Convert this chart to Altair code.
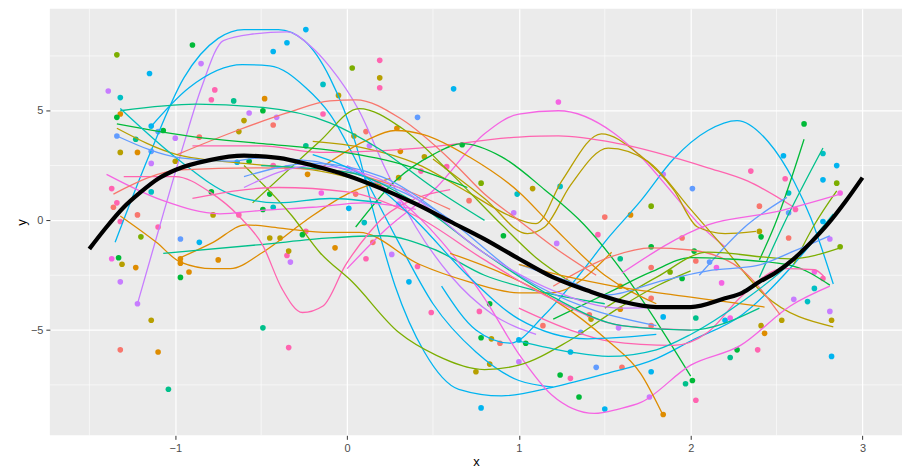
import altair as alt
import pandas as pd

# ---------------- palette (ggplot hue) ----------------
color_keys = ["sal", "ora", "oli", "olg", "grn", "tea", "cya", "sky", "blu", "pur", "vio", "pnk"]
color_hex = ["#F8766D", "#DE8C00", "#B79F00", "#7CAE00", "#00BA38", "#00C08B",
             "#00BFC4", "#00B4F0", "#619CFF", "#C77CFF", "#F564E3", "#FF64B0"]

# ---------------- axis ticks ----------------
x_ticks = [-1, 0, 1, 2, 3]
y_ticks = [-5, 0, 5]
x_minor = [-1.5, -0.5, 0.5, 1.5, 2.5]
y_minor = [-7.5, -2.5, 2.5, 7.5]

# ---------------- scattered points (per colour) ----------------
sal_x = [-0.43, -0.86, -1.36, -1.22, 0.11, 0.71, 1.5, 0.05, 0.15, 0.89, 1.41, 1.14, 2.4, 1.95, 2.03, 2.57, 1.77, 1.77, 1.77, 1.6, -1.32]
sal_y = [4.35, 3.8, 0.6, 0.25, 4.05, 0.9, 0.15, 1.2, -1.0, -5.6, -4.3, -4.8, 0.65, -0.8, -1.85, -0.8, -2.15, -3.55, -4.8, -6.7, -5.9]
pnk_x = [-0.77, -0.79, -0.14, -1.37, -1.34, -0.63, -0.43, 0.19, 0.19, 0.58, 0.43, 2.35, 2.55, 2.61, -0.35, -0.34, -0.24, 0.11, 0.49, 0.41, 0.77, 1.3, 1.46, 2.77, 2.39, 2.03, -1.1, -1.32]
pnk_y = [5.95, 5.5, 4.85, 1.45, 0.8, 0.25, 2.5, 7.3, 6.05, 2.45, 2.25, 2.25, 1.9, 0.5, -1.6, -5.8, -0.5, -1.75, -4.2, -2.1, -4.15, -7.2, -0.65, -2.65, -5.9, -8.2, -0.3, -0.05]
ora_x = [-0.48, -1.32, -1.22, -0.23, 0.29, 0.31, 1.65, -1.23, -1.1, -0.97, -0.97, -0.92, -0.75, -0.07, 1.59, 1.59, 2.43, 1.84]
ora_y = [5.55, 4.85, 3.1, 2.1, 4.2, 3.15, 0.25, -2.15, -6.0, -1.75, -1.95, -2.35, -1.8, -1.25, -3.0, -4.05, -5.15, -8.85]
oli_x = [-0.6, -1.32, -1.0, -0.63, -0.78, 0.19, -0.05, 0.04, 0.45, 1.08, 0.3, -1.31, -1.14, -0.45, -0.39, -0.34, 0.84, 0.83, 0.75, 1.42, 2.4, 2.82, 2.53, 2.41]
oli_y = [4.55, 3.1, 2.7, 4.05, 0.25, 6.5, 5.7, 3.85, 2.9, 1.45, 1.95, -2.0, -4.55, -0.8, -0.8, -1.4, -5.4, -6.55, -6.9, -4.5, -0.5, -4.55, -4.55, -4.8]
olg_x = [-1.34, 0.03, 0.78, 2.85, 1.77, -1.2, 2.87, 1.88]
olg_y = [7.55, 6.95, 1.7, 1.7, 0.65, -0.75, -1.2, -2.35]
grn_x = [-0.9, -0.49, -1.34, -1.07, -0.57, -0.79, -0.45, -0.49, 0.67, 2.66, -1.33, -0.97, -0.26, 0.83, 0.78, 1.04, 1.24, 1.35, 0.91, 2.41, 1.77, 2.02, 1.95, 2.27, 2.01]
grn_y = [8.0, 5.0, 4.7, 4.1, 2.7, 1.3, 1.2, 0.5, 3.45, 4.4, -1.7, -2.6, -0.65, -3.8, -5.35, -5.6, -7.05, -8.05, -0.7, -0.75, -1.2, -1.4, -2.65, -5.9, -7.3]
tea_x = [-0.66, -1.23, -0.24, -1.04, -0.49, 1.59, 2.03, 2.23, 1.97]
tea_y = [5.45, 3.7, 3.4, -7.7, -4.9, -1.75, -4.45, -6.25, -7.45]
cya_x = [-1.32, -0.14, 0.99, 1.24, 2.77, 2.57, 2.72, 2.68, -1.14, -0.43, 0.1]
cya_y = [5.6, 6.2, 1.2, 1.55, 3.05, 1.25, -3.1, -3.7, 1.3, 0.6, -0.1]
sky_x = [-1.15, -0.43, -0.35, -0.24, -1.14, -0.64, 0.62, 0.01, 2.54, 2.85, 2.77, 2.77, -0.86, 0.36, 1.0, 0.78, 1.5, 1.3, 1.84, 2.2, 2.82, 1.77]
sky_y = [6.7, 7.7, 8.1, 8.7, 4.3, 2.65, 6.0, 0.55, 2.95, 2.5, 1.85, -0.05, -1.0, -2.8, -5.45, -8.55, -8.6, -6.0, -4.4, -4.55, -6.2, -6.9]
blu_x = [-1.34, -1.1, -1.14, 0.41, 2.01, 2.57, -0.97, 1.45, 1.36, 2.11]
blu_y = [3.85, 4.05, 3.15, 4.7, 1.45, 0.35, -0.85, -6.7, -5.1, -1.9]
pur_x = [-1.39, -0.85, -0.57, -0.41, -1.0, -1.14, -0.35, 0.13, 0.97, 0.3, -1.32, -1.22, -0.33, 0.26, 1.0, 1.22, 1.84, 2.81, 2.6, 2.81, 1.76, 1.58]
pur_y = [5.9, 7.15, 4.9, 4.7, 3.75, 2.6, 2.4, 3.4, 0.35, 0.75, -2.8, -3.8, -1.9, -1.55, -6.45, -1.05, 2.1, -0.85, -3.6, -4.15, -8.05, -4.9]
vio_x = [-0.15, 1.23, 2.87, -1.37, 2.15, 2.18, 2.72, 2.23]
vio_y = [1.25, 5.4, 1.25, -1.75, -2.15, -2.85, -2.35, -4.45]

# ---------------- smooth group curves ----------------
c01_x = [-1.35, -1.15, -0.95, -0.75, -0.6, -0.4, -0.25, -0.1, 0.05, 0.15, 0.28, 0.45, 0.65, 0.9, 1.2, 1.5, 1.8, 2.0, 2.3, 2.6, 2.83]
c01_y = [-1.0, 3.0, 6.5, 8.3, 8.7, 8.7, 8.2, 6.5, 3.5, 0.5, -3.0, -6.0, -7.7, -8.0, -7.6, -7.0, -6.3, -5.5, -4.3, -2.0, 0.2]
c02_x = [-1.22, -1.07, -0.95, -0.85, -0.72, -0.55, -0.35, -0.22, -0.1, 0.07, 0.22, 0.4, 0.6, 0.85, 1.1]
c02_y = [-3.8, 0.3, 3.5, 6.0, 8.2, 8.5, 8.6, 8.0, 7.0, 5.0, 2.4, -0.3, -2.5, -4.3, -5.2]
c03_x = [-1.15, -0.92, -0.61, -0.45, -0.24, -0.1, 0.1, 0.3, 0.5, 0.75, 1.0, 1.2]
c03_y = [4.2, 6.05, 7.1, 7.05, 6.05, 4.85, 2.0, -1.0, -3.8, -6.0, -7.3, -7.6]
c04_x = [0.55, 0.75, 0.95, 1.15, 1.35, 1.52, 1.71, 1.9, 2.1, 2.27, 2.45, 2.6, 2.7, 2.83]
c04_y = [-3.0, -5.0, -5.6, -4.3, -2.5, -0.8, 0.9, 2.8, 4.1, 4.55, 3.6, 1.8, 0.1, -2.9]
c05_x = [0.0, 0.22, 0.52, 0.8, 1.0, 1.23, 1.55, 1.71, 1.9, 2.04, 2.2]
c05_y = [-2.2, -0.45, 1.5, 3.95, 4.85, 5.0, 4.0, 2.9, 1.2, -0.1, -1.2]
c06_x = [-0.2, 0.1, 0.4, 0.7, 0.95, 1.1, 1.25, 1.48, 1.7, 1.9, 2.04, 2.2, 2.38]
c06_y = [3.6, 3.3, 2.6, 1.3, 0.2, -0.15, 1.8, 3.95, 3.0, 1.4, -0.3, -0.6, -0.5]
c07_x = [0.5, 0.8, 1.05, 1.15, 1.3, 1.52, 1.75, 2.0, 2.2, 2.43, 2.83]
c07_y = [2.8, 1.0, -0.6, -0.3, 1.6, 3.3, 2.7, 0.5, -1.3, -3.4, -4.85]
c08_x = [-0.9, -0.5, -0.16, 0.42, 1.0, 1.23, 1.58, 2.1, 2.33, 2.6]
c08_y = [3.4, 3.4, 3.1, 3.3, 3.8, 3.85, 3.5, 2.4, 1.8, 0.6]
c09_x = [0.05, 0.28, 0.5, 0.67, 0.9, 1.15, 1.38, 1.6, 1.8, 2.0]
c09_y = [-0.3, 1.8, 3.0, 3.5, 2.9, 1.4, -0.2, -2.3, -4.6, -7.1]
c10_x = [-0.55, -0.3, -0.16, 0.07, 0.32, 0.61, 0.9, 1.1, 1.3]
c10_y = [0.8, 2.6, 3.6, 5.1, 4.2, 2.1, -0.2, -1.7, -2.8]
c11_x = [-0.99, -0.64, -0.35, -0.1, 0.05, 0.32, 0.61, 0.8, 1.0, 1.2, 1.45]
c11_y = [3.0, 4.1, 4.9, 5.45, 5.5, 4.6, 2.7, 1.2, 0.0, -1.2, -2.5]
c12_x = [-0.15, 0.1, 0.28, 0.45, 0.71, 1.0, 1.2, 1.5, 1.8]
c12_y = [2.4, 3.6, 4.1, 3.9, 2.9, 1.3, -0.3, -2.5, -3.8]
c13_x = [-1.32, -1.11, -0.97, -0.78, -0.68, -0.49, -0.24, 0.0, 0.25]
c13_y = [0.2, -1.0, -1.9, -2.2, -2.2, -1.45, 0.0, 1.2, 1.9]
c14_x = [-0.97, -0.78, -0.59, -0.39, -0.1, 0.07, 0.42, 0.71, 1.0, 1.19, 1.54]
c14_y = [-1.7, -1.0, -0.2, -0.35, -0.55, -0.55, -2.0, -2.8, -3.3, -3.3, -1.45]
c15_x = [-1.07, -0.5, -0.1, 0.2, 0.5, 0.8, 1.1, 1.5]
c15_y = [-1.5, -1.1, -0.8, -0.7, -1.3, -2.5, -3.2, -3.8]
c16_x = [-1.3, -1.0, -0.8, -0.63, -0.49, -0.38, -0.26, -0.14, -0.01, 0.13, 0.22, 0.4, 0.6]
c16_y = [2.0, 2.0, 1.3, 0.2, -1.15, -3.1, -4.2, -3.9, -2.05, -0.55, 0.2, 1.0, 1.4]
c17_x = [-1.4, -1.07, -0.74, -0.51, -0.2, 0.1, 0.4]
c17_y = [2.1, 0.9, 0.3, 0.45, 0.6, 0.8, 0.5]
c18_x = [0.0, 0.25, 0.48, 0.8, 1.0, 1.19, 1.44, 1.58, 1.71, 2.0, 2.29, 2.58, 2.81]
c18_y = [2.5, 1.3, -0.35, -3.55, -6.1, -7.95, -8.8, -8.6, -8.3, -6.6, -5.7, -3.9, -3.0]
c19_x = [-0.6, -0.32, -0.16, 0.03, 0.3, 0.52, 0.8, 1.0, 1.29, 1.58, 1.8, 2.0]
c19_y = [2.5, 0.2, -1.45, -2.8, -5.1, -6.15, -6.8, -6.6, -5.5, -4.0, -3.0, -2.3]
c20_x = [2.4, 2.49, 2.66]
c20_y = [-1.8, -0.2, 3.7]
c21_x = [2.4, 2.54, 2.77]
c21_y = [-2.6, -0.2, 3.3]
c22_x = [2.6, 2.72, 2.85]
c22_y = [-2.0, -0.2, 1.35]
c23_x = [2.05, 2.33, 2.56]
c23_y = [-2.5, -0.2, 1.05]
c24_x = [1.6, 2.1, 2.5, 2.87]
c24_y = [-2.4, -0.2, 0.4, 1.2]
c25_x = [1.2, 1.52, 1.77, 2.0, 2.29, 2.52]
c25_y = [-3.0, -1.7, -1.25, -1.35, -2.2, -4.3]
c26_x = [1.2, 1.52, 1.77, 2.0, 2.2, 2.58, 2.81]
c26_y = [-4.5, -3.3, -2.35, -1.7, -1.75, -2.05, -2.95]
c27_x = [1.5, 1.8, 2.1, 2.58, 2.87]
c27_y = [-4.0, -2.6, -1.45, -1.75, -1.25]
c28_x = [1.0, 1.3, 1.52, 1.81, 2.1, 2.39, 2.6, 2.81]
c28_y = [-2.0, -2.8, -3.4, -2.8, -2.3, -2.05, -1.4, -0.7]
c29_x = [1.0, 1.3, 1.52, 1.9, 2.1, 2.29, 2.54, 2.72, 2.78]
c29_y = [-4.0, -5.0, -5.5, -5.7, -5.1, -3.5, -2.2, -2.25, -2.6]
c30_x = [0.6, 0.9, 1.2, 1.52, 1.71, 1.84]
c30_y = [-1.5, -2.4, -3.6, -5.5, -7.0, -8.9]
c31_x = [1.0, 1.3, 1.52, 1.9, 2.2, 2.43]
c31_y = [-2.0, -2.6, -2.95, -3.4, -3.7, -3.95]
c32_x = [1.0, 1.3, 1.52, 1.8, 2.0, 2.3, 2.6, 2.83]
c32_y = [-5.5, -6.0, -6.2, -5.9, -5.2, -3.7, -1.8, 0.3]
c33_x = [-1.32, -0.88, -0.49, -0.1, 0.2, 0.5, 0.8]
c33_y = [5.0, 5.3, 5.15, 4.45, 3.2, 1.5, 0.0]
c34_x = [-1.34, -0.88, -0.49, -0.1, 0.3, 0.7]
c34_y = [4.4, 3.8, 3.5, 3.2, 2.6, 1.5]
c35_x = [-1.34, -0.99, -0.6, -0.2, 0.2]
c35_y = [4.2, 3.0, 2.6, 2.3, 1.6]
c36_x = [-1.32, -0.97, -0.68, -0.4, -0.1, 0.2]
c36_y = [5.1, 2.7, 1.2, 0.8, 1.0, 0.8]
c37_x = [-1.34, -0.97, -0.68, -0.51, -0.2, 0.1, 0.4, 0.7]
c37_y = [3.85, 2.85, 2.7, 2.85, 2.7, 2.0, 1.0, -0.5]
c38_x = [-1.36, -0.97, -0.51, -0.1, 0.3, 0.6]
c38_y = [1.2, 2.3, 2.4, 2.3, 1.5, 0.5]
c39_x = [-0.6, -0.2, 0.2, 0.6, 1.0, 1.4, 1.8]
c39_y = [2.0, 2.6, 2.0, 0.0, -2.5, -4.0, -4.8]
c40_x = [-0.9, -0.4, 0.0, 0.4, 0.8, 1.2, 1.6, 2.0]
c40_y = [1.0, 1.5, 1.3, 0.2, -1.8, -3.6, -4.8, -5.0]
c41_x = [-0.5, 0.0, 0.4, 0.8, 1.2, 1.6, 2.0, 2.4]
c41_y = [2.5, 2.2, 0.8, -1.5, -3.5, -4.8, -5.0, -4.0]
c42_x = [-0.2, 0.1, 0.4, 0.7, 1.0, 1.4, 1.8]
c42_y = [3.0, 2.0, 0.0, -2.5, -4.5, -5.4, -5.2]
c43_x = [-0.6, -0.2, 0.3, 0.8, 1.2, 1.6, 2.0]
c43_y = [1.5, 2.5, 1.5, -1.5, -3.2, -4.0, -3.9]

# ---------------- true function (thick black) ----------------
true_x = [-1.5, -1.4, -1.3, -1.2, -1.1, -1.0, -0.8, -0.6, -0.4, -0.2, 0.0, 0.2, 0.4, 0.6, 0.8,
          1.0, 1.2, 1.4, 1.6, 1.8, 2.0, 2.2, 2.3, 2.4, 2.5, 2.6, 2.7, 2.8, 2.9, 3.0]
true_y = [-1.3, -0.3, 0.6, 1.3, 1.9, 2.3, 2.75, 2.95, 2.85, 2.5, 2.05, 1.45, 0.75, -0.05, -0.85,
          -1.75, -2.6, -3.2, -3.7, -3.95, -3.95, -3.55, -3.3, -2.8, -2.35, -1.75, -1.0, -0.15, 0.85, 1.95]

# ---------------- build tables ----------------
point_sets = [("sal", sal_x, sal_y), ("pnk", pnk_x, pnk_y), ("ora", ora_x, ora_y), ("oli", oli_x, oli_y),
              ("olg", olg_x, olg_y), ("grn", grn_x, grn_y), ("tea", tea_x, tea_y), ("cya", cya_x, cya_y),
              ("sky", sky_x, sky_y), ("blu", blu_x, blu_y), ("pur", pur_x, pur_y), ("vio", vio_x, vio_y)]
prow = []
for c, xs, ys in point_sets:
    for a, b in zip(xs, ys):
        prow.append({"x": a, "y": b, "c": c})
pts = pd.DataFrame(prow)

curve_sets = [
    ("c01", "sky", c01_x, c01_y), ("c02", "pur", c02_x, c02_y), ("c03", "sky", c03_x, c03_y),
    ("c04", "sky", c04_x, c04_y), ("c05", "vio", c05_x, c05_y), ("c06", "oli", c06_x, c06_y),
    ("c07", "oli", c07_x, c07_y), ("c08", "pnk", c08_x, c08_y), ("c09", "grn", c09_x, c09_y),
    ("c10", "olg", c10_x, c10_y), ("c11", "sal", c11_x, c11_y), ("c12", "ora", c12_x, c12_y),
    ("c13", "ora", c13_x, c13_y), ("c14", "ora", c14_x, c14_y), ("c15", "tea", c15_x, c15_y),
    ("c16", "pnk", c16_x, c16_y), ("c17", "vio", c17_x, c17_y), ("c18", "vio", c18_x, c18_y),
    ("c19", "olg", c19_x, c19_y), ("c20", "grn", c20_x, c20_y), ("c21", "tea", c21_x, c21_y),
    ("c22", "olg", c22_x, c22_y), ("c23", "blu", c23_x, c23_y), ("c24", "vio", c24_x, c24_y),
    ("c25", "sal", c25_x, c25_y), ("c26", "grn", c26_x, c26_y), ("c27", "olg", c27_x, c27_y),
    ("c28", "blu", c28_x, c28_y), ("c29", "pnk", c29_x, c29_y), ("c30", "ora", c30_x, c30_y),
    ("c31", "ora", c31_x, c31_y), ("c32", "cya", c32_x, c32_y), ("c33", "tea", c33_x, c33_y),
    ("c34", "grn", c34_x, c34_y), ("c35", "oli", c35_x, c35_y), ("c36", "cya", c36_x, c36_y),
    ("c37", "blu", c37_x, c37_y), ("c38", "sal", c38_x, c38_y), ("c39", "blu", c39_x, c39_y),
    ("c40", "pnk", c40_x, c40_y), ("c41", "tea", c41_x, c41_y), ("c42", "sky", c42_x, c42_y),
    ("c43", "pur", c43_x, c43_y),
]
lrow = []
for g, c, xs, ys in curve_sets:
    for i, (a, b) in enumerate(zip(xs, ys)):
        lrow.append({"x": a, "y": b, "c": c, "g": g, "o": i})
lines = pd.DataFrame(lrow)
truth = pd.DataFrame({"x": true_x, "y": true_y})

# ---------------- scales ----------------
xs_ = alt.Scale(domain=[-1.73, 3.23], nice=False, zero=False)
ys_ = alt.Scale(domain=[-9.8, 9.65], nice=False, zero=False)
cs_ = alt.Scale(domain=color_keys, range=color_hex)

X = alt.X("x:Q", scale=xs_, title="x", axis=alt.Axis(values=x_ticks, format="d"))
Y = alt.Y("y:Q", scale=ys_, title="y", axis=alt.Axis(values=y_ticks, format="d"))

vgrid = alt.Chart(pd.DataFrame({"x": x_minor})).mark_rule(color="white", strokeWidth=0.6).encode(x=X)
hgrid = alt.Chart(pd.DataFrame({"y": y_minor})).mark_rule(color="white", strokeWidth=0.6).encode(y=Y)

points = alt.Chart(pts).mark_circle(size=32, opacity=1).encode(
    x=X, y=Y, color=alt.Color("c:N", scale=cs_, legend=None))

curves = alt.Chart(lines).mark_line(strokeWidth=1.3, interpolate="monotone").encode(
    x=X, y=Y, detail="g:N", order="o:Q", color=alt.Color("c:N", scale=cs_, legend=None))

black = alt.Chart(truth).mark_line(strokeWidth=4.2, color="black", interpolate="monotone").encode(x=X, y=Y)

chart = alt.layer(vgrid, hgrid, points, curves, black).properties(
    width=855, height=428,
    autosize=alt.AutoSizeParams(type="none"),
    padding={"left": 42, "top": 0, "right": 0, "bottom": 33},
).configure_view(fill="#EBEBEB", strokeWidth=0).configure_axis(
    grid=True, gridColor="white", gridWidth=1.2, domain=False,
    tickColor="#333333", tickSize=4, tickWidth=1,
    labelColor="#4D4D4D", labelFontSize=11, labelFont="Liberation Sans", labelPadding=3,
    titleFont="Liberation Sans", titleFontSize=13, titleColor="black", titleFontWeight="normal",
    titlePadding=2,
)

chart.save("out.html", embed_options={"renderer": "svg", "actions": False})
